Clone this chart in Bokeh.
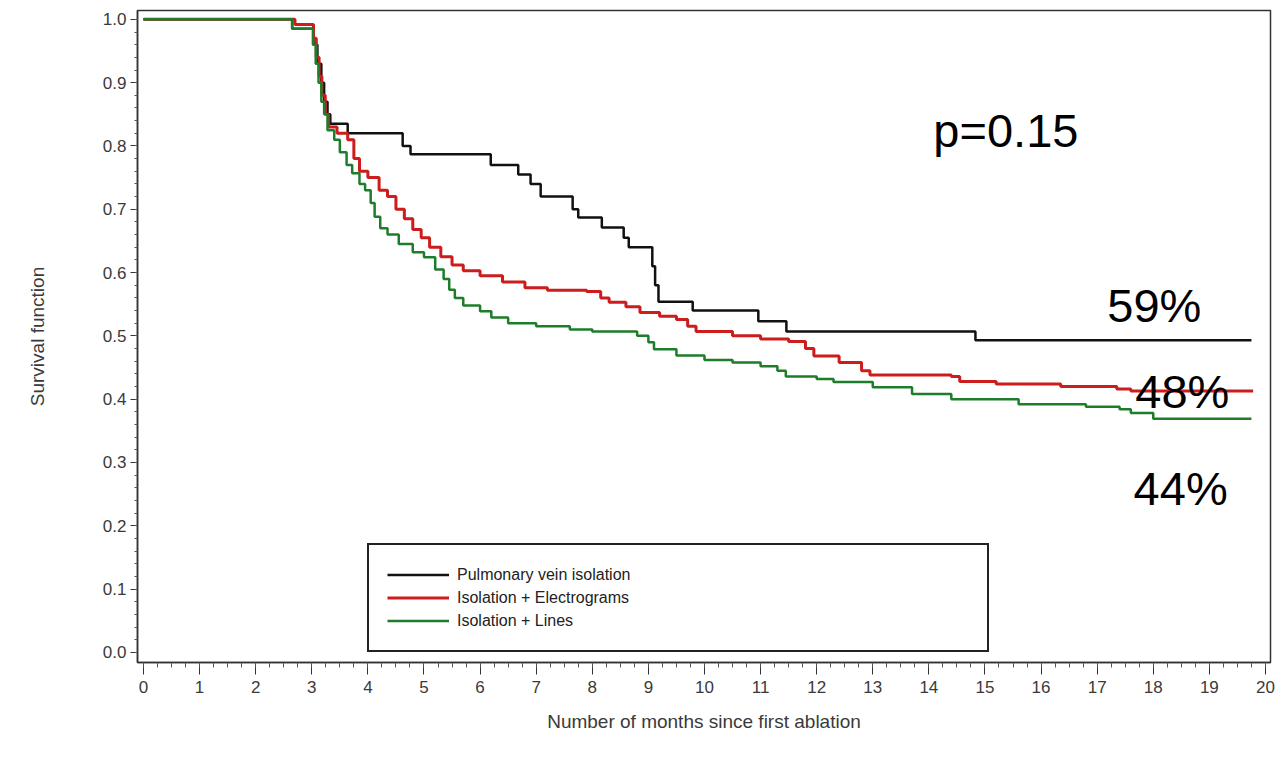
from bokeh.plotting import figure
from bokeh.models import Range1d, SingleIntervalTicker, NumeralTickFormatter, Label
from bokeh.embed import file_html
from bokeh.resources import INLINE

# ---- data (Kaplan-Meier step curves) ----
pvi_t = [0, 2.65, 3.03, 3.10, 3.17, 3.22, 3.28, 3.33, 3.64, 4.62, 4.76, 6.19, 6.68, 6.90, 7.08,
         7.65, 7.75, 8.17, 8.56, 8.65, 9.07, 9.12, 9.18, 9.79, 10.96, 11.46, 14.83, 19.75]
pvi_s = [1.0, 0.985, 0.96, 0.93, 0.90, 0.87, 0.85, 0.835, 0.82, 0.80, 0.787, 0.770, 0.755, 0.740, 0.720,
         0.700, 0.687, 0.671, 0.655, 0.640, 0.610, 0.580, 0.554, 0.540, 0.523, 0.507, 0.493, 0.493]

egm_t = [0, 2.70, 3.03, 3.08, 3.13, 3.18, 3.24, 3.30, 3.45, 3.64, 3.75, 3.85, 4.00, 4.20, 4.35, 4.50,
         4.65, 4.80, 4.95, 5.10, 5.30, 5.50, 5.70, 6.00, 6.40, 6.80, 7.20, 7.90, 8.15, 8.30, 8.60,
         8.85, 9.20, 9.50, 9.70, 9.85, 10.50, 11.00, 11.50, 11.80, 11.95, 12.40, 12.80, 12.95,
         14.40, 14.55, 15.20, 16.35, 17.35, 17.60, 19.78]
egm_s = [1.0, 0.992, 0.97, 0.94, 0.91, 0.88, 0.85, 0.83, 0.82, 0.81, 0.78, 0.76, 0.75, 0.73, 0.72, 0.70,
         0.685, 0.668, 0.655, 0.640, 0.625, 0.612, 0.603, 0.595, 0.585, 0.576, 0.572, 0.570, 0.560, 0.553, 0.546,
         0.537, 0.531, 0.526, 0.515, 0.507, 0.500, 0.495, 0.491, 0.480, 0.468, 0.458, 0.445, 0.438,
         0.436, 0.428, 0.424, 0.420, 0.416, 0.413, 0.413]

lines_t = [0, 2.65, 3.02, 3.07, 3.12, 3.17, 3.22, 3.28, 3.40, 3.50, 3.62, 3.72, 3.85, 3.95, 4.05, 4.12,
           4.22, 4.35, 4.55, 4.80, 5.00, 5.20, 5.35, 5.45, 5.55, 5.70, 6.00, 6.20, 6.50, 7.00, 7.60,
           8.00, 8.80, 9.00, 9.10, 9.50, 10.00, 10.50, 11.00, 11.30, 11.45, 12.00, 12.30, 13.00,
           13.70, 14.40, 15.60, 16.80, 17.40, 17.60, 18.00, 19.75]
lines_s = [1.0, 0.985, 0.96, 0.93, 0.90, 0.87, 0.85, 0.825, 0.81, 0.79, 0.77, 0.757, 0.74, 0.73, 0.71, 0.688,
           0.67, 0.66, 0.645, 0.632, 0.624, 0.605, 0.59, 0.573, 0.56, 0.548, 0.539, 0.529, 0.52, 0.515, 0.51,
           0.507, 0.500, 0.49, 0.479, 0.469, 0.462, 0.458, 0.452, 0.445, 0.436, 0.432, 0.427, 0.419,
           0.408, 0.400, 0.392, 0.388, 0.384, 0.378, 0.369, 0.369]

series_names = ["Pulmonary vein isolation", "Isolation + Electrograms", "Isolation + Lines"]
annotations = ["p=0.15", "59%", "48%", "44%"]
annot_x = [14.08, 17.18, 17.68, 17.65]
annot_y = [0.825, 0.548, 0.412, 0.259]

FONT = "Liberation Sans"

p = figure(width=1280, height=757, output_backend="svg", toolbar_location=None,
           x_range=Range1d(-0.107, 20.09), y_range=Range1d(-0.016, 1.014),
           min_border_left=137, min_border_right=10, min_border_top=10, min_border_bottom=95)

p.xgrid.visible = False
p.ygrid.visible = False
p.outline_line_color = "#333333"
p.outline_line_width = 1.5
p.outline_line_alpha = 1.0
p.background_fill_color = "white"
p.border_fill_color = "white"

p.step(pvi_t, pvi_s, mode="after", line_color="#111111", line_width=2.5, legend_label=series_names[0])
p.step(egm_t, egm_s, mode="after", line_color="#cc1c1c", line_width=3, legend_label=series_names[1])
p.step(lines_t, lines_s, mode="after", line_color="#1d7d2a", line_width=2.5, legend_label=series_names[2])

# axes
xa = p.xaxis[0]
xa.ticker = SingleIntervalTicker(interval=1, num_minor_ticks=4)
xa.axis_label = "Number of months since first ablation"
ya = p.yaxis[0]
ya.ticker = SingleIntervalTicker(interval=0.1, num_minor_ticks=5)
ya.formatter = NumeralTickFormatter(format="0.0")
ya.axis_label = "Survival function"

for ax in (xa, ya):
    ax.axis_line_color = "#333333"
    ax.axis_line_width = 1.5
    ax.major_tick_line_color = "#333333"
    ax.minor_tick_line_color = "#555555"
    ax.major_tick_in = 0
    ax.minor_tick_in = 0
    ax.major_label_text_font = FONT
    ax.major_label_text_font_size = "17px"
    ax.major_label_text_color = "#3a3a3a"
    ax.axis_label_text_font = FONT
    ax.axis_label_text_font_size = "19px"
    ax.axis_label_text_font_style = "normal"
    ax.axis_label_text_color = "#3a3a3a"

xa.major_tick_out = 12
xa.minor_tick_out = 5
xa.major_label_standoff = 6
xa.axis_label_standoff = 15
ya.major_tick_out = 7
ya.minor_tick_out = 3
ya.major_label_standoff = 4
ya.axis_label_standoff = 52

# legend
lg = p.legend[0]
lg.location = (230, 10)
lg.label_text_font = FONT
lg.label_text_font_size = "16px"
lg.label_text_color = "#222222"
lg.glyph_width = 62
lg.glyph_height = 23
lg.label_height = 23
lg.label_width = 512
lg.label_standoff = 8
lg.spacing = 0
lg.padding = 18
lg.margin = 0
lg.border_line_color = "#222222"
lg.border_line_width = 2
lg.border_line_alpha = 1.0
lg.background_fill_color = "white"
lg.background_fill_alpha = 1.0

for txt, ax_, ay_ in zip(annotations, annot_x, annot_y):
    p.add_layout(Label(x=ax_, y=ay_, text=txt, text_font=FONT, text_font_size="47px",
                       text_color="#000000", text_align="left", text_baseline="alphabetic"))

open("out.html", "w").write(file_html(p, INLINE))
